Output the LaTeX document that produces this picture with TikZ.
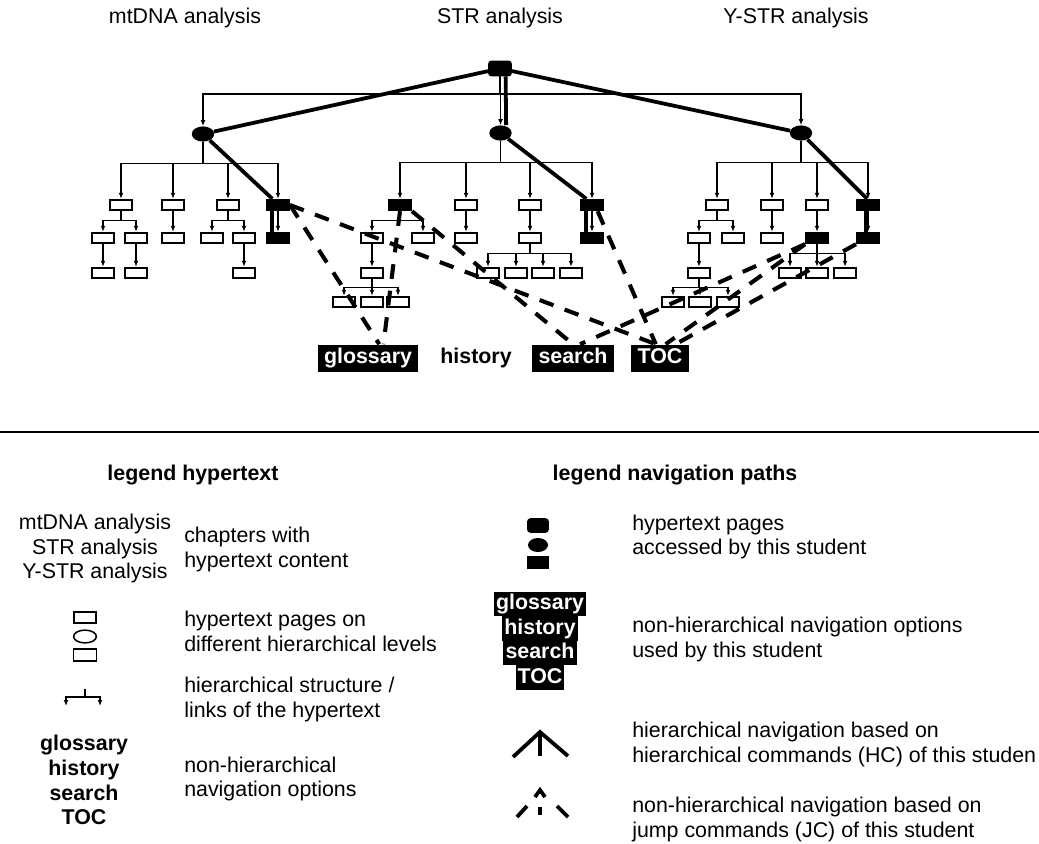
\documentclass[tikz,border=0pt]{standalone}
\usepackage{fontspec}
\setmainfont{Liberation Sans}
\usetikzlibrary{arrows.meta,shapes.geometric}

\newcommand\bodyfont{\fontsize{15.2}{17.6}\selectfont}
% stem below a parent, then a bar and one arrow down to every child
\newcommand\fan[3]{\foreach \kid in {#3}{\draw[link] (#1.south) -- ++(0,#2) -| (\kid.north);}}

\begin{document}
\begin{tikzpicture}[x=0.025cm,y=-0.025cm,font=\bodyfont,
  pg/.style={draw,line width=1.4pt,minimum width=0.55cm,minimum height=0.26cm,inner sep=0pt},
  acc/.style={pg,fill=black},
  sec/.style={ellipse,fill=black,minimum width=0.56cm,minimum height=0.38cm,inner sep=0pt},
  link/.style={line width=1.1pt,-{Latex[length=4.2pt,width=3.4pt]}},
  hc/.style={line width=2.7pt},
  jc/.style={line width=2.9pt,dash pattern=on 10.5pt off 8.5pt},
  opt/.style={fill=black,text=white,font=\bodyfont\bfseries,inner xsep=4.5pt,inner ysep=2.6pt,text height=11pt,text depth=3pt},
  lopt/.style={opt,inner xsep=1.5pt,inner ysep=1.7pt},
  txt/.style={align=left,anchor=west,inner sep=0pt}]
\useasboundingbox (0,0) rectangle (1039,843);

% chapters
\node (hm) at (185,18) {mtDNA analysis};
\node (hs) at (500,18) {STR analysis};
\node (hy) at (796,18) {Y-STR analysis};

\node[acc,rounded corners=2pt,minimum height=0.35cm] (top) at (500,68.5) {};

% mtDNA
\node[sec] (e1) at (203,134) {};
\node[pg] (m1) at (121,205) {};  \node[pg] (m2) at (173,205) {};
\node[pg] (m3) at (228,205) {};  \node[acc] (m4) at (278,205) {};
\node[pg] (m11) at (103,238) {}; \node[pg] (m12) at (136,238) {};
\node[pg] (m21) at (173,238) {}; \node[pg] (m31) at (212,238) {};
\node[pg] (m32) at (244,238) {}; \node[acc] (m41) at (278,238) {};
\node[pg] (m111) at (103,273) {}; \node[pg] (m121) at (136,273) {};
\node[pg] (m321) at (244,273) {};

% STR
\node[sec] (e2) at (500.5,133) {};
\node[acc] (s1) at (400,205) {}; \node[pg] (s2) at (466,205) {};
\node[pg] (s3) at (530,205) {};  \node[acc] (s4) at (592,205) {};
\node[pg] (s11) at (372,238) {}; \node[pg] (s12) at (423,238) {};
\node[pg] (s21) at (466,238) {}; \node[pg] (s31) at (530,238) {};
\node[acc] (s41) at (592,238) {};
\node[pg] (s111) at (372,273) {};
\node[pg] (s311) at (488,273) {}; \node[pg] (s312) at (516,273) {};
\node[pg] (s313) at (543,273) {}; \node[pg] (s314) at (571,273) {};
\node[pg] (s1111) at (344,302) {}; \node[pg] (s1112) at (372,302) {};
\node[pg] (s1113) at (398,302) {};

% Y-STR
\node[sec] (e3) at (801,133) {};
\node[pg] (y1) at (717,205) {};  \node[pg] (y2) at (772,205) {};
\node[pg] (y3) at (817,205) {};  \node[acc] (y4) at (868,205) {};
\node[pg] (y11) at (699,238) {}; \node[pg] (y12) at (733,238) {};
\node[pg] (y21) at (772,238) {}; \node[acc] (y31) at (817,238) {};
\node[acc] (y41) at (868,238) {};
\node[pg] (y111) at (699,273) {};
\node[pg] (y311) at (790,273) {}; \node[pg] (y312) at (817,273) {};
\node[pg] (y313) at (845,273) {};
\node[pg] (y1111) at (673,302) {}; \node[pg] (y1112) at (700,302) {};
\node[pg] (y1113) at (728,302) {};

% hierarchy
\fan{top}{17.5}{e1,e2,e3}
\fan{e1}{21.5}{m1,m2,m3,m4}
\fan{m1}{9.5}{m11,m12} \fan{m2}{9.5}{m21} \fan{m3}{9.5}{m31,m32} \fan{m4}{9.5}{m41}
\fan{m11}{9.5}{m111} \fan{m12}{9.5}{m121} \fan{m32}{9.5}{m321}
\fan{e2}{21.5}{s1,s2,s3,s4}
\fan{s1}{9.5}{s11,s12} \fan{s2}{9.5}{s21} \fan{s3}{9.5}{s31} \fan{s4}{9.5}{s41}
\fan{s11}{9.5}{s111} \fan{s31}{9.5}{s311,s312,s313,s314} \fan{s111}{8.5}{s1111,s1112,s1113}
\fan{e3}{21.5}{y1,y2,y3,y4}
\fan{y1}{9.5}{y11,y12} \fan{y2}{9.5}{y21} \fan{y3}{9.5}{y31} \fan{y4}{9.5}{y41}
\fan{y11}{9.5}{y111} \fan{y31}{9.5}{y311,y312,y313} \fan{y111}{8.5}{y1111,y1112,y1113}

% navigation options
\node[opt] (glos) at (368,358) {glossary};
\node[font=\bodyfont\bfseries] (hist) at (476,358) {history};
\node[opt] (srch) at (573,358) {search};
\node[opt] (toc) at (660,358) {TOC};

% HC paths
\draw[hc] (top) -- (e1);
\draw[hc] (top) -- (e3);
\draw[hc] ([xshift=4pt]top.south) -- ([xshift=4pt]e2.north);
\draw[hc] (e1) -- ([xshift=-4pt]m4.north);
\draw[hc] ([xshift=-4pt]m4.south) -- ([xshift=-4pt]m41.north);
\draw[hc] (e2) -- ([xshift=-4pt]s4.north);
\draw[hc] ([xshift=-4pt]s4.south) -- ([xshift=-4pt]s41.north);
\draw[hc] (e3) -- ([xshift=-0.7pt]y4.north);
\draw[hc] ([xshift=-1.5pt]y4.south) -- ([xshift=-1.5pt]y41.north);

% JC paths
\draw[jc] (m4.east) -- ([xshift=8pt]glos.north);
\draw[jc] (m4.east) -- ([xshift=-3pt]toc.north);
\draw[jc] (s1.south) -- ([xshift=11pt]glos.north);
\draw[jc] (s1.south east) -- (srch.north);
\draw[jc] ([xshift=4pt]s4.south) -- ([xshift=-3pt]toc.north);
\draw[jc] (y31.south west) -- ([xshift=5pt]srch.north);
\draw[jc] (y31.south west) -- ([xshift=4pt]toc.north);
\draw[jc] (y41.south west) -- ([xshift=11pt]toc.north);

\coordinate (sepL) at (0,432);
\coordinate (sepR) at (1039,432);
\draw[line width=1.1pt] (sepL) -- (sepR);

% legend hypertext
\node[font=\bodyfont\bfseries] (headL) at (193,475) {legend hypertext};
\node[align=center] (lgc) at (95,548.5) {mtDNA analysis\\STR analysis\\Y-STR analysis};
\node[txt] (lgct) at (184,549.5) {chapters with\\hypertext content};
\node[pg,line width=1.1pt,minimum width=0.56cm,minimum height=0.27cm] (lgp1) at (85,617.5) {};
\node[draw,ellipse,line width=1.1pt,minimum width=0.57cm,minimum height=0.32cm,inner sep=0pt] (lgp2) at (85,636.5) {};
\node[pg,line width=1.1pt,minimum width=0.58cm,minimum height=0.29cm] (lgp3) at (85,655) {};
\node[txt] (lgpt) at (184,631) {hypertext pages on\\different hierarchical levels};
\coordinate (lgs) at (85,689);
\draw[line width=1.1pt] (lgs) -- ++(0,8) coordinate (lgsb);
\draw[link] (lgsb) -| ++(-19,9);
\draw[link] (lgsb) -| ++(15,9);
\node[txt] (lgst) at (184,699.5) {hierarchical structure /\\links of the hypertext};
\node[font=\bodyfont\bfseries,align=center] (lgo) at (84,780) {glossary\\history\\search\\TOC};
\node[txt] (lgot) at (184,779) {non-hierarchical\\navigation options};

% legend navigation paths
\node[font=\bodyfont\bfseries] (headR) at (675,475) {legend navigation paths};
\node[acc,rounded corners=2pt,minimum width=0.5cm,minimum height=0.32cm] (lga1) at (538,525.5) {};
\node[sec,minimum width=0.5cm,minimum height=0.35cm] (lga2) at (538,545) {};
\node[acc,minimum width=0.5cm,minimum height=0.27cm] (lga3) at (538,562.5) {};
\node[txt] (lgat) at (632,537) {hypertext pages\\accessed by this student};
\node[lopt] (lgn1) at (540,604) {glossary};
\node[lopt] (lgn2) at (540,628.5) {history};
\node[lopt] (lgn3) at (540,653) {search};
\node[lopt] (lgn4) at (540,677.5) {TOC};
\node[txt] (lgnt) at (632,639.5) {non-hierarchical navigation options\\used by this student};
\coordinate (lgh) at (540,732);
\draw[hc] ([shift={(-27,25)}]lgh) -- (lgh) -- ([shift={(28,24)}]lgh);
\draw[hc] (lgh) -- ++(0,24);
\node[txt] (lght) at (632,744.5) {hierarchical navigation based on\\hierarchical commands (HC) of this studen};
\coordinate (lgj) at (540,790);
\draw[hc] ([shift={(-5,7)}]lgj) -- (lgj) -- ([shift={(5,7)}]lgj);
\draw[hc] ([shift={(-23,27)}]lgj) -- ([shift={(-13,16)}]lgj);
\draw[hc] ([shift={(0,17)}]lgj) -- ([shift={(0,25)}]lgj);
\draw[hc] ([shift={(17,16)}]lgj) -- ([shift={(28,27)}]lgj);
\node[txt] (lgjt) at (632,819.5) {non-hierarchical navigation based on\\jump commands (JC) of this student};
\end{tikzpicture}
\end{document}
